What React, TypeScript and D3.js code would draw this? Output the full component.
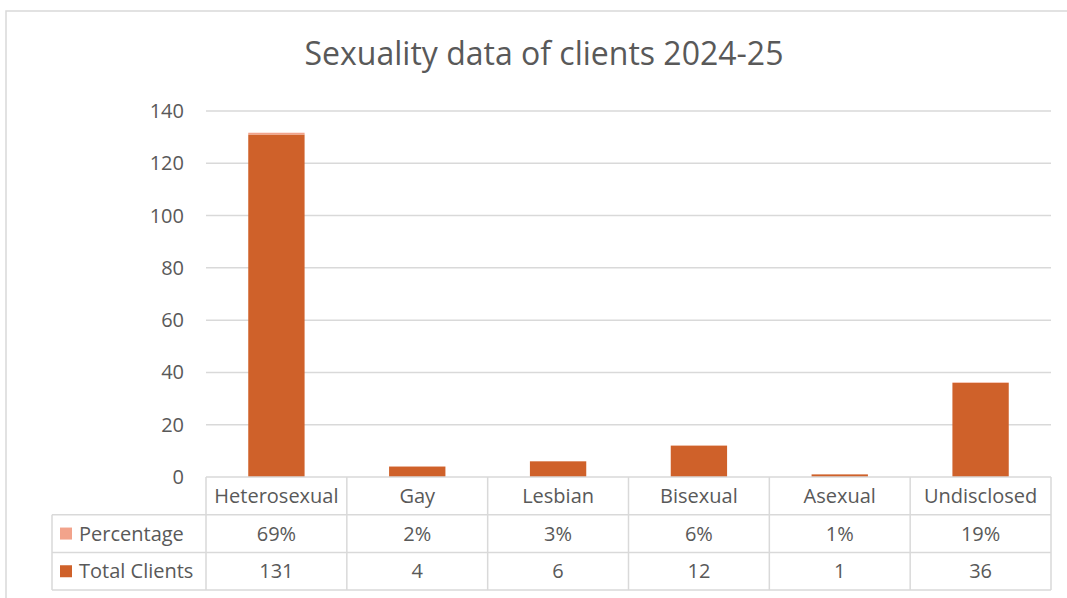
import React from 'react';
import * as d3 from 'd3';

// chart data
const categories = ['Heterosexual', 'Gay', 'Lesbian', 'Bisexual', 'Asexual', 'Undisclosed'];
const totalClients = [131, 4, 6, 12, 1, 36];
const percentage = [0.69, 0.02, 0.03, 0.06, 0.01, 0.19];
const percentLabels = ['69%', '2%', '3%', '6%', '1%', '19%'];
const yTicks = [0, 20, 40, 60, 80, 100, 120, 140];

const W = 1067;
const H = 598;
const left = 206;
const right = 1051;
const top = 111;
const bottom = 477;
const rowH = 37.7;
const tableLeft = 52;

const textColor = '#595959';
const gridColor = '#d9d9d9';
const barColor = '#cf612a';
const pctColor = '#f2a38b';
const font = '"Open Sans", "Noto Sans", sans-serif';

const App = () => {
  const x = d3.scaleBand().domain(categories).range([left, right]).paddingInner(0.6).paddingOuter(0.3);
  const band = d3.scaleBand().domain(categories).range([left, right]);
  const y = d3.scaleLinear().domain([0, 140]).range([bottom, top]);

  const rows = [
    { name: 'Percentage', color: pctColor, values: percentLabels },
    { name: 'Total Clients', color: barColor, values: totalClients.map(String) },
  ];

  return (
    <svg width={W} height={H} style={{ position: 'absolute', left: 0, top: 0, background: '#fff' }} fontFamily={font}>
      {/* chart frame */}
      <rect x={6} y={11} width={W + 10} height={H} fill="none" stroke={gridColor} strokeWidth={1.5} />
      <text x={544} y={65} textAnchor="middle" fontSize={32} fill={textColor}>
        Sexuality data of clients 2024-25
      </text>

      {/* gridlines + tick labels */}
      {yTicks.map(t => (
        <g key={t}>
          {t > 0 && <line x1={left} x2={right} y1={y(t)} y2={y(t)} stroke={gridColor} strokeWidth={1.5} />}
          <text x={184} y={y(t)} dy="0.35em" textAnchor="end" fontSize={20} fill={textColor}>{t}</text>
        </g>
      ))}

      {/* bars: Total Clients with Percentage stacked on top */}
      {categories.map((c, i) => (
        <g key={c}>
          <rect x={x(c)} y={y(totalClients[i])} width={x.bandwidth()} height={bottom - y(totalClients[i])} fill={barColor} />
          <rect x={x(c)} y={y(totalClients[i] + percentage[i])} width={x.bandwidth()}
            height={y(totalClients[i]) - y(totalClients[i] + percentage[i])} fill={pctColor} />
        </g>
      ))}

      {/* data table */}
      <g stroke={gridColor} strokeWidth={1.5}>
        <line x1={left} x2={right} y1={bottom} y2={bottom} />
        <line x1={tableLeft} x2={right} y1={bottom + rowH} y2={bottom + rowH} />
        <line x1={tableLeft} x2={right} y1={bottom + rowH * 2} y2={bottom + rowH * 2} />
        <line x1={tableLeft} x2={right} y1={bottom + rowH * 3} y2={bottom + rowH * 3} />
        <line x1={tableLeft} x2={tableLeft} y1={bottom + rowH} y2={bottom + rowH * 3} />
        {categories.map(c => (
          <line key={c} x1={band(c)} x2={band(c)} y1={bottom} y2={bottom + rowH * 3} />
        ))}
        <line x1={right} x2={right} y1={bottom} y2={bottom + rowH * 3} />
      </g>
      {categories.map(c => (
        <text key={c} x={band(c)! + band.bandwidth() / 2} y={bottom + rowH / 2} dy="0.35em"
          textAnchor="middle" fontSize={20} fill={textColor}>{c}</text>
      ))}
      {rows.map((r, ri) => {
        const cy = bottom + rowH * (ri + 1.5);
        return (
          <g key={r.name}>
            <rect x={60} y={cy - 6} width={12} height={12} fill={r.color} />
            <text x={79} y={cy} dy="0.35em" fontSize={20} fill={textColor}>{r.name}</text>
            {r.values.map((v, i) => (
              <text key={i} x={band(categories[i])! + band.bandwidth() / 2} y={cy} dy="0.35em"
                textAnchor="middle" fontSize={20} fill={textColor}>{v}</text>
            ))}
          </g>
        );
      })}
    </svg>
  );
};

export default App;
